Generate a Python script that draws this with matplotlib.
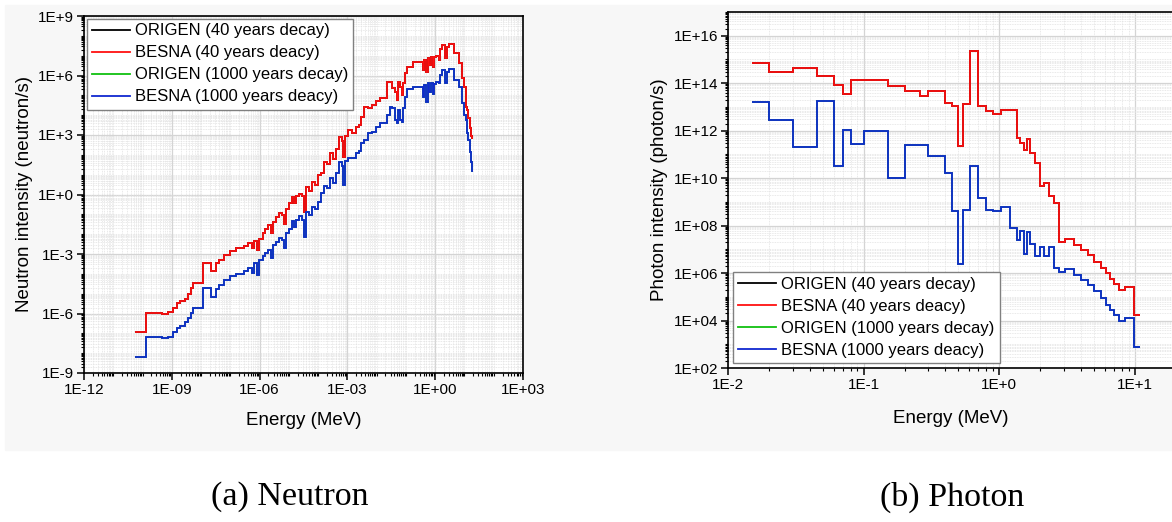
import numpy as np
import matplotlib
matplotlib.use("Agg")
import matplotlib.pyplot as plt
from matplotlib.ticker import LogLocator, NullFormatter
from matplotlib.patches import Rectangle

plt.rcParams['font.family'] = ['Liberation Sans', 'DejaVu Sans']

# ---- neutron spectrum (group edges and intensities read as powers of ten) ----
n_edges_exp = [-10.26, -9.89, -9.35, -9.13, -8.95, -8.83, -8.72, -8.55, -8.46, -8.34,
               -8.27, -8.10, -7.95, -7.66, -7.50, -7.38, -7.20, -7.01, -6.80, -6.55,
               -6.39, -6.25, -6.18, -6.10, -6.02, -5.90, -5.80, -5.70, -5.62, -5.55,
               -5.45, -5.35, -5.25, -5.18, -5.10, -5.00, -4.90, -4.82, -4.74, -4.65,
               -4.55, -4.48, -4.42, -4.30, -4.22, -4.10, -4.02, -3.90, -3.80, -3.68,
               -3.58, -3.49, -3.40, -3.30, -3.20, -3.14, -3.08, -2.98, -2.85, -2.72,
               -2.62, -2.52, -2.42, -2.30, -2.15, -2.02, -1.89, -1.66, -1.55, -1.49,
               -1.38, -1.32, -1.26, -1.21, -1.15, -1.09, -1.04, -0.98, -0.75, -0.43,
               -0.38, -0.32, -0.26, -0.20, -0.15, -0.09, -0.03, 0.02, 0.14, 0.18,
               0.24, 0.35, 0.41, 0.47, 0.64, 0.81, 0.92, 0.98, 1.04, 1.08,
               1.13, 1.19, 1.23, 1.27, 1.30]

n_besna40_exp = [-6.92, -5.96, -6.00, -5.94, -5.74, -5.49, -5.37, -5.27, -5.03, -4.73,
                 -4.48, -4.45, -3.47, -3.86, -3.47, -3.30, -3.05, -2.84, -2.72, -2.60,
                 -2.45, -2.70, -2.35, -2.80, -2.25, -1.95, -1.75, -1.55, -1.95, -1.40,
                 -1.15, -0.95, -1.05, -1.50, -0.75, -0.45, -0.15, -0.45, -0.10, 0.05,
                 -0.10, -0.87, 0.39, 0.20, 0.64, 0.50, 0.98, 1.10, 1.65, 1.55,
                 2.08, 1.80, 2.30, 2.91, 2.70, 1.90, 2.95, 3.25, 3.10, 3.40,
                 3.50, 3.92, 4.43, 4.35, 4.50, 4.70, 4.85, 5.69, 5.69, 5.35,
                 5.19, 4.77, 5.69, 5.44, 5.02, 5.61, 6.11, 6.45, 6.70, 6.28,
                 6.78, 6.19, 6.87, 6.53, 6.95, 6.45, 6.92, 6.98, 6.78, 7.32,
                 7.54, 6.87, 7.46, 7.57, 7.12, 6.61, 5.86, 5.44, 4.43, 4.26,
                 3.84, 3.34, 2.95, 2.85]

n_besna1000_exp = [-8.20, -7.20, -7.24, -7.18, -6.95, -6.72, -6.62, -6.43, -6.24, -5.95,
                   -5.72, -5.70, -4.73, -5.15, -4.75, -4.55, -4.30, -4.12, -4.00, -3.85,
                   -3.70, -3.95, -3.45, -4.05, -3.30, -3.10, -2.95, -2.80, -3.20, -2.55,
                   -2.38, -2.20, -2.30, -2.70, -1.95, -1.75, -1.35, -1.65, -1.30, -1.10,
                   -1.30, -2.13, -0.90, -1.05, -0.62, -0.75, -0.36, 0.06, 0.45, 0.35,
                   0.85, 0.60, 1.10, 1.65, 1.45, 0.48, 1.70, 1.82, 1.85, 2.10,
                   2.20, 2.60, 2.75, 3.08, 3.15, 3.40, 3.59, 4.01, 4.40, 4.35,
                   3.76, 3.59, 4.26, 3.76, 3.67, 4.35, 4.93, 5.30, 5.44, 4.93,
                   5.52, 4.68, 5.61, 5.19, 5.61, 5.07, 5.57, 5.69, 5.61, 6.03,
                   6.28, 5.61, 6.19, 6.31, 5.77, 5.44, 4.60, 4.01, 3.76, 3.08,
                   2.75, 2.16, 1.66, 1.20]

# ORIGEN results lie under the BESNA curves
n_origen40_exp = n_besna40_exp
n_origen1000_exp = n_besna1000_exp

# ---- photon spectrum ----
g_edges = [0.015, 0.02, 0.03, 0.045, 0.06, 0.07, 0.08, 0.10, 0.15, 0.20,
           0.26, 0.30, 0.40, 0.45, 0.50, 0.54, 0.61, 0.70, 0.80, 0.90,
           1.03, 1.19, 1.34, 1.43, 1.51, 1.59, 1.67, 1.82, 1.98, 2.15,
           2.34, 2.51, 2.74, 3.03, 3.53, 3.98, 4.49, 4.97, 5.60, 6.10,
           6.53, 6.98, 7.60, 8.43, 9.84, 10.9]

g_besna40 = [6.8e14, 3.0e14, 4.4e14, 2.1e14, 8.5e13, 3.5e13, 1.3e14, 1.4e14, 7.9e13, 4.5e13,
             3.0e13, 4.8e13, 1.4e13, 1.1e13, 2.3e11, 1.3e13, 2.3e15, 1.05e13, 6.9e12, 5.0e12,
             7.1e12, 7.6e12, 5.1e11, 3.0e11, 1.5e11, 4.5e11, 1.1e11, 4.5e10, 4.8e9, 6.5e9,
             1.7e9, 9.3e8, 2.1e7, 2.6e7, 1.5e7, 9.3e6, 5.8e6, 3.0e6, 1.7e6, 9.8e5,
             5.4e5, 3.3e5, 1.9e5, 2.5e5, 1.7e4]

g_besna1000 = [1.55e13, 2.7e12, 2.1e11, 1.8e13, 3.1e10, 1.1e12, 2.8e11, 1.0e12, 1.0e10, 2.4e11,
               2.4e11, 8.7e10, 1.6e10, 4.0e8, 2.4e6, 4.7e8, 3.2e10, 1.5e9, 4.7e8, 4.2e8,
               5.8e8, 7.9e7, 2.5e7, 6.2e7, 6.3e6, 5.6e7, 1.7e7, 5.0e6, 1.3e7, 5.0e6,
               1.2e7, 1.6e6, 1.1e6, 1.5e6, 8.5e5, 5.2e5, 3.0e5, 1.7e5, 8.9e4, 4.7e4,
               2.8e4, 1.7e4, 1.0e4, 1.26e4, 8.0e2]

g_origen40 = g_besna40
g_origen1000 = g_besna1000

labels = ["ORIGEN (40 years decay)", "BESNA (40 years deacy)",
          "ORIGEN (1000 years decay)", "BESNA (1000 years deacy)"]
colors = ["black", "#ff1010", "#10c010", "#1028d0"]

n_xticks = [1e-12, 1e-9, 1e-6, 1e-3, 1e0, 1e3]
n_xlabels = ["1E-12", "1E-09", "1E-06", "1E-03", "1E+00", "1E+03"]
n_yticks = [1e-9, 1e-6, 1e-3, 1e0, 1e3, 1e6, 1e9]
n_ylabels = ["1E-9", "1E-6", "1E-3", "1E+0", "1E+3", "1E+6", "1E+9"]
g_xticks = [1e-2, 1e-1, 1e0, 1e1]
g_xlabels = ["1E-2", "1E-1", "1E+0", "1E+1"]
g_yticks = [1e2, 1e4, 1e6, 1e8, 1e10, 1e12, 1e14, 1e16]
g_ylabels = ["1E+02", "1E+04", "1E+06", "1E+08", "1E+10", "1E+12", "1E+14", "1E+16"]

W, H = 1172, 522
fig = plt.figure(figsize=(W / 100, H / 100), dpi=100)
bg = Rectangle((5 / W, 1 - 450 / H), 1 - 5 / W, (450 - 5) / H,
               transform=fig.transFigure, color="#f7f7f7", zorder=-10)
fig.patches.append(bg)

ax1 = fig.add_axes([84 / W, 1 - 373 / H, (523 - 84) / W, (373 - 16) / H])
ax2 = fig.add_axes([728 / W, 1 - 368 / H, (W - 728) / W + 0.002, (368 - 12) / H])


def style(ax):
    ax.set_xscale("log")
    ax.set_yscale("log")
    ax.set_facecolor("white")
    ax.xaxis.set_minor_locator(LogLocator(base=10, subs=np.arange(1, 10), numticks=200))
    ax.yaxis.set_minor_locator(LogLocator(base=10, subs=np.arange(1, 10), numticks=200))
    ax.xaxis.set_minor_formatter(NullFormatter())
    ax.yaxis.set_minor_formatter(NullFormatter())
    ax.grid(which="major", color="#d4d4d4", lw=0.9)
    ax.grid(which="minor", color="#e2e2e2", lw=0.6, ls=(0, (1, 1)))
    ax.set_axisbelow(True)
    ax.tick_params(which="major", direction="out", length=5, width=1.1,
                   labelsize=11, pad=2, top=False, right=False)
    ax.tick_params(which="minor", direction="out", length=2.5, width=0.8,
                   top=False, right=False)
    for s in ax.spines.values():
        s.set_linewidth(1.2)


leg_kw = dict(fontsize=12, frameon=True, fancybox=False, edgecolor="#808080",
              framealpha=1, handlelength=2.3, labelspacing=0.42, borderpad=0.3,
              handletextpad=0.3)

# neutron panel
style(ax1)
nE = 10.0 ** np.array(n_edges_exp)
series_n = [n_origen40_exp, n_besna40_exp, n_origen1000_exp, n_besna1000_exp]
for vals, lab, c in zip(series_n, labels, colors):
    ax1.stairs(10.0 ** np.array(vals), nE, baseline=None, color=c, lw=1.3, label=lab)
ax1.set_xlim(1e-12, 1e3)
ax1.set_ylim(1e-9, 1e9)
ax1.set_xticks(n_xticks, n_xlabels)
ax1.set_yticks(n_yticks, n_ylabels)
ax1.set_xlabel("Energy (MeV)", fontsize=13.5, labelpad=11)
ax1.set_ylabel("Neutron intensity (neutron/s)", fontsize=13.5, labelpad=4)
ax1.legend(loc="upper left", borderaxespad=0.15, **leg_kw)

# photon panel
style(ax2)
ax2.spines["right"].set_visible(False)
series_g = [g_origen40, g_besna40, g_origen1000, g_besna1000]
for vals, lab, c in zip(series_g, labels, colors):
    ax2.stairs(vals, g_edges, baseline=None, color=c, lw=1.3, label=lab)
ax2.set_xlim(1e-2, 10 ** 1.29)
ax2.set_ylim(1e2, 1e17)
ax2.set_xticks(g_xticks, g_xlabels)
ax2.set_yticks(g_yticks, g_ylabels)
ax2.set_xlabel("Energy (MeV)", fontsize=13.5, labelpad=13)
ax2.set_ylabel("Photon intensity (photon/s)", fontsize=13.5, labelpad=4)
ax2.legend(loc="lower left", borderaxespad=0.3, **leg_kw)

fig.text(290 / W, 1 - 497 / H, "(a) Neutron", ha="center", va="center",
         fontsize=24.5, family=["Liberation Serif", "DejaVu Serif"])
fig.text(952 / W, 1 - 497 / H, "(b) Photon", ha="center", va="center",
         fontsize=24.5, family=["Liberation Serif", "DejaVu Serif"])

fig.savefig("out.png", dpi=100, facecolor="white")
